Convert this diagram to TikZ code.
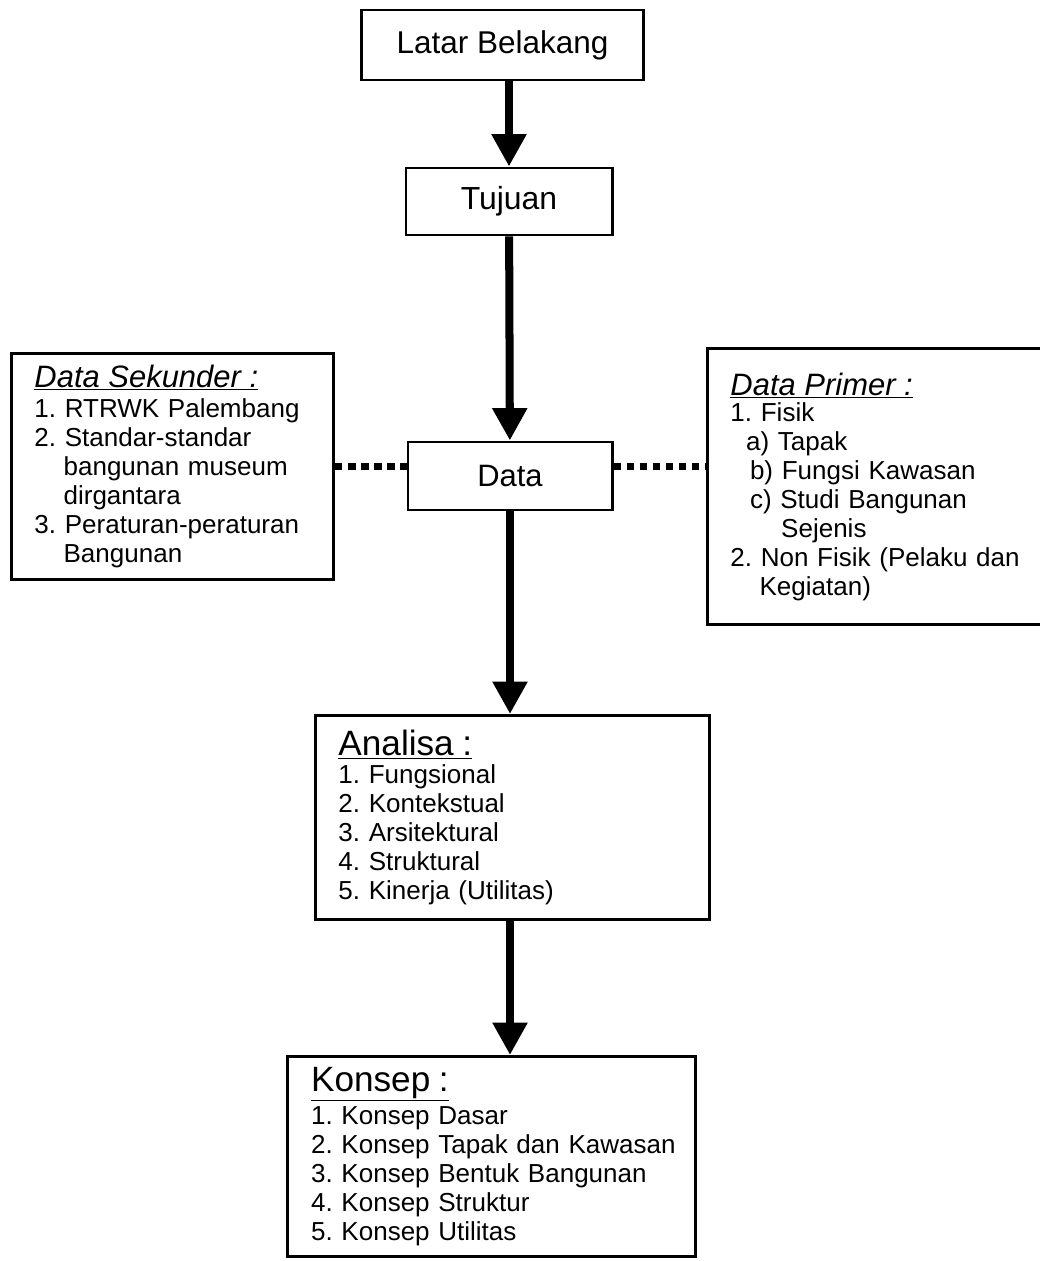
\documentclass[tikz,border=0pt]{standalone}
\usepackage{fontspec}
\setmainfont{Liberation Sans}
\usetikzlibrary{positioning,arrows.meta}

\newcommand{\heading}[1]{{\fontsize{25}{27}\selectfont\underline{#1}}}
\newcommand{\hang}{\hspace*{1.12em}}

\begin{document}
\begin{tikzpicture}[x=0.025cm, y=-0.025cm,
    stagebox/.style={
        rectangle, draw, line width=2.1pt,
        font=\fontsize{22}{26}\selectfont
    },
    listbox/.style={
        rectangle, draw, line width=2.1pt, anchor=north west,
        align=left, inner xsep=0.575cm,
        font=\fontsize{18.5}{20.6}\selectfont\frenchspacing
    },
    arrow/.style={-{Triangle[width=23.5pt,length=23pt]}, line width=5.7pt},
    dotline/.style={line width=4.8pt, dash pattern=on 5.3pt off 4pt}
]
  \useasboundingbox (0,0) rectangle (1039,1261);

  % Alur utama
  \node[stagebox, minimum width=7.025cm, minimum height=1.75cm,
        font=\fontsize{22.4}{26}\selectfont] (latar) at (502.5,45) {Latar Belakang};
  \node[stagebox, minimum width=5.15cm, minimum height=1.675cm,
        font=\fontsize{22.7}{26}\selectfont] (tujuan) at (509,201.5) {Tujuan};
  \node[stagebox, minimum width=5.1cm, minimum height=1.7cm] (data) at (510,476) {Data};

  % Kotak data samping
  \node[listbox, text width=6.9cm, minimum height=5.65cm] (sekunder) at (10,352)
      {{\fontsize{22}{24}\selectfont\underline{\textit{Data Sekunder :}}}\\[1pt]
       1. RTRWK Palembang\\
       2. Standar-standar\\
       \hang bangunan museum\\
       \hang dirgantara\\
       3. Peraturan-peraturan\\
       \hang Bangunan};
  \node[listbox, text width=8.2cm, minimum height=6.9cm] (primer) at (706,347)
      {{\fontsize{22}{24}\selectfont\underline{\textit{Data Primer :}}}\\[-2pt]
       1. Fisik\\
       \hspace*{0.6em}a) Tapak\\
       \hspace*{0.75em}b) Fungsi Kawasan\\
       \hspace*{0.75em}c) Studi Bangunan\\
       \hspace*{1.95em}Sejenis\\
       2. Non Fisik (Pelaku dan\\
       \hang Kegiatan)};

  % Analisa dan konsep
  \node[listbox, text width=8.7cm, minimum height=5.1cm] (analisa) at (314,714)
      {\heading{Analisa :}\\[-1pt]
       1. Fungsional\\
       2. Kontekstual\\
       3. Arsitektural\\
       4. Struktural\\
       5. Kinerja (Utilitas)};
  \node[listbox, text width=9.3cm, inner xsep=0.45cm, minimum height=5cm] (konsep) at (286,1055)
      {\hspace*{4pt}\heading{Konsep :}\\[3pt]
       \hspace*{4pt}1. Konsep Dasar\\
       \hspace*{4pt}2. Konsep Tapak dan Kawasan\\
       \hspace*{4pt}3. Konsep Bentuk Bangunan\\
       \hspace*{4pt}4. Konsep Struktur\\
       \hspace*{4pt}5. Konsep Utilitas};

  % Panah
  \draw[arrow] (tujuan.north |- latar.south) -- (tujuan.north);
  \draw[arrow] (tujuan) -- (data);
  \draw[arrow] (data.south) -- (data.south |- analisa.north);
  \draw[arrow] (data.south |- analisa.south) -- (data.south |- konsep.north);

  % Garis titik-titik
  \draw[dotline] (sekunder.east) -- (sekunder.east -| data.west);
  \draw[dotline] (sekunder.east -| data.east) -- (sekunder.east -| primer.west);
\end{tikzpicture}
\end{document}
